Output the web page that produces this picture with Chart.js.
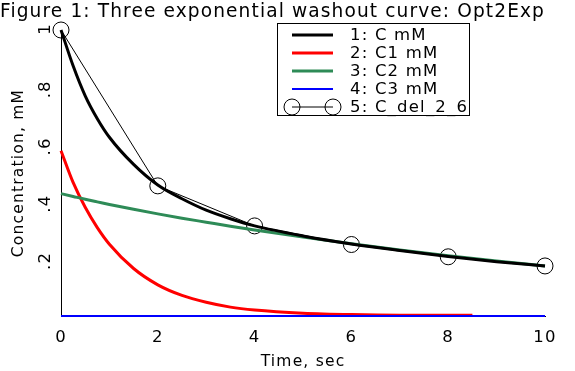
<!DOCTYPE html>
<html>
<head>
<meta charset="utf-8">
<script src="https://cdn.jsdelivr.net/npm/chart.js@4.4.0/dist/chart.umd.min.js"></script>
<style>
  body { margin: 0; background: #fff; }
  #wrap { width: 575px; height: 371px; }
</style>
</head>
<body>
<div id="wrap"><canvas id="chart"></canvas></div>
<script>
// ==== Data ====
const titleText = "Figure 1: Three exponential washout curve: Opt2Exp";
const seriesNames = ["1: C mM", "2: C1 mM", "3: C2 mM", "4: C3 mM", "5: C_del_2_6"];

const timeC = [0, 0.25, 0.5, 0.75, 1, 1.5, 2, 2.5, 3, 3.5, 4, 5, 6, 7, 8, 9, 10];
const cTotal = [1.0, 0.875, 0.77, 0.69, 0.625, 0.53, 0.458, 0.41, 0.37, 0.34, 0.315, 0.28, 0.252, 0.229, 0.208, 0.19, 0.175];
const c2 = [0.428, 0.418, 0.408, 0.399, 0.39, 0.373, 0.357, 0.342, 0.328, 0.314, 0.301, 0.276, 0.253, 0.231, 0.211, 0.192, 0.175];

const timeC1 = [0, 0.25, 0.5, 0.75, 1, 1.5, 2, 2.5, 3, 3.5, 4, 5, 6, 7, 8, 8.5];
const c1 = [0.578, 0.467, 0.38, 0.309, 0.251, 0.166, 0.109, 0.072, 0.048, 0.031, 0.021, 0.01, 0.005, 0.003, 0.003, 0.003];

const timeC3 = [0, 10];
const c3 = [0, 0];

const timeDel = [0, 2, 4, 6, 8, 10];
const cDel = [1.0, 0.455, 0.315, 0.25, 0.207, 0.175];

const xTickValues = [0, 2, 4, 6, 8, 10];
const yTickLabels = { 0.2: ".2", 0.4: ".4", 0.6: ".6", 0.8: ".8", 1: "1" };

// ==== Helpers ====
const pts = (xs, ys) => xs.map((x, i) => ({ x, y: ys[i] }));
const FONT = "'DejaVu Sans', sans-serif";
const SPACING = "1.2px";

// wider text like the original renderer
const spacing = {
  id: "spacing",
  beforeLayout(chart) { chart.ctx.letterSpacing = SPACING; },
  beforeDraw(chart) { chart.ctx.letterSpacing = SPACING; }
};

// ==== Boxed legend inside the plot ====
const boxLegend = {
  id: "boxLegend",
  afterDraw(chart) {
    const ctx = chart.ctx;
    const x0 = 277.5, y0 = 23.5, w = 192, h = 92;
    ctx.save();
    ctx.fillStyle = "#fff";
    ctx.fillRect(x0, y0, w, h);
    ctx.strokeStyle = "#000";
    ctx.lineWidth = 1;
    ctx.strokeRect(x0, y0, w, h);
    ctx.font = "16.5px " + FONT;
    ctx.letterSpacing = SPACING;
    ctx.textBaseline = "middle";
    chart.data.datasets.forEach((ds, i) => {
      const y = 35 + i * 18;
      ctx.strokeStyle = ds.borderColor;
      ctx.lineWidth = ds.borderWidth;
      ctx.beginPath();
      ctx.moveTo(292, y);
      ctx.lineTo(333, y);
      ctx.stroke();
      if (ds.pointRadius > 0) {
        ctx.lineWidth = 1;
        for (const cx of [292, 333]) {
          ctx.beginPath();
          ctx.arc(cx, y, 8, 0, Math.PI * 2);
          ctx.stroke();
        }
      }
      ctx.fillStyle = "#000";
      ctx.fillText(ds.label, 350, y + 1);
    });
    ctx.restore();
  }
};

// ==== Chart ====
new Chart(document.getElementById("chart"), {
  type: "line",
  data: {
    datasets: [
      { label: seriesNames[0], data: pts(timeC, cTotal), borderColor: "#000000", borderWidth: 3, pointRadius: 0, cubicInterpolationMode: "monotone", clip: false, order: 1 },
      { label: seriesNames[1], data: pts(timeC1, c1), borderColor: "#ff0000", borderWidth: 3, pointRadius: 0, cubicInterpolationMode: "monotone", clip: false, order: 3 },
      { label: seriesNames[2], data: pts(timeC, c2), borderColor: "#2e8b57", borderWidth: 3, pointRadius: 0, cubicInterpolationMode: "monotone", clip: false, order: 2 },
      { label: seriesNames[3], data: pts(timeC3, c3), borderColor: "#0000ff", borderWidth: 2, pointRadius: 0, clip: false, order: 0 },
      { label: seriesNames[4], data: pts(timeDel, cDel), borderColor: "#000000", borderWidth: 1, pointRadius: 8, pointBorderWidth: 1, pointBorderColor: "#000", pointBackgroundColor: "rgba(0,0,0,0)", tension: 0, clip: false, order: 4 }
    ]
  },
  options: {
    responsive: true,
    maintainAspectRatio: false,
    animation: false,
    layout: { padding: { left: 0, right: 30, top: 0, bottom: 0 } },
    plugins: {
      legend: { display: false },
      tooltip: { enabled: false },
      title: {
        display: true,
        text: titleText,
        align: "start",
        color: "#000",
        font: { family: FONT, size: 20, weight: "normal" },
        padding: { top: 0, bottom: 6 }
      }
    },
    scales: {
      x: {
        type: "linear",
        min: 0,
        max: 10,
        afterBuildTicks: (s) => { s.ticks = xTickValues.map((v) => ({ value: v })); },
        grid: { display: false, drawTicks: true, tickLength: 9, tickColor: "#000" },
        border: { display: true, color: "#000", width: 1 },
        ticks: { color: "#000", font: { family: FONT, size: 16.5 }, padding: 3, maxRotation: 0 },
        title: { display: true, text: "Time, sec", color: "#000", font: { family: FONT, size: 15.5 }, padding: { top: 0, bottom: 0 } },
        afterFit: (s) => { s.height = 55; }
      },
      y: {
        min: 0,
        max: 1,
        grid: { display: false, drawTicks: true, tickLength: 9, tickColor: "#000" },
        border: { display: true, color: "#000", width: 1 },
        ticks: {
          stepSize: 0.2,
          color: "#000",
          font: { family: FONT, size: 16.5 },
          minRotation: 90,
          maxRotation: 90,
          padding: 6,
          labelOffset: -7,
          callback: (v) => yTickLabels[Math.round(v * 10) / 10] || ""
        },
        title: { display: true, text: "Concentration, mM", color: "#000", font: { family: FONT, size: 15.5 }, padding: { top: 10, bottom: 4 } },
        afterFit: (s) => { s.width = 61; }
      }
    }
  },
  plugins: [spacing, boxLegend]
});
</script>
</body>
</html>
